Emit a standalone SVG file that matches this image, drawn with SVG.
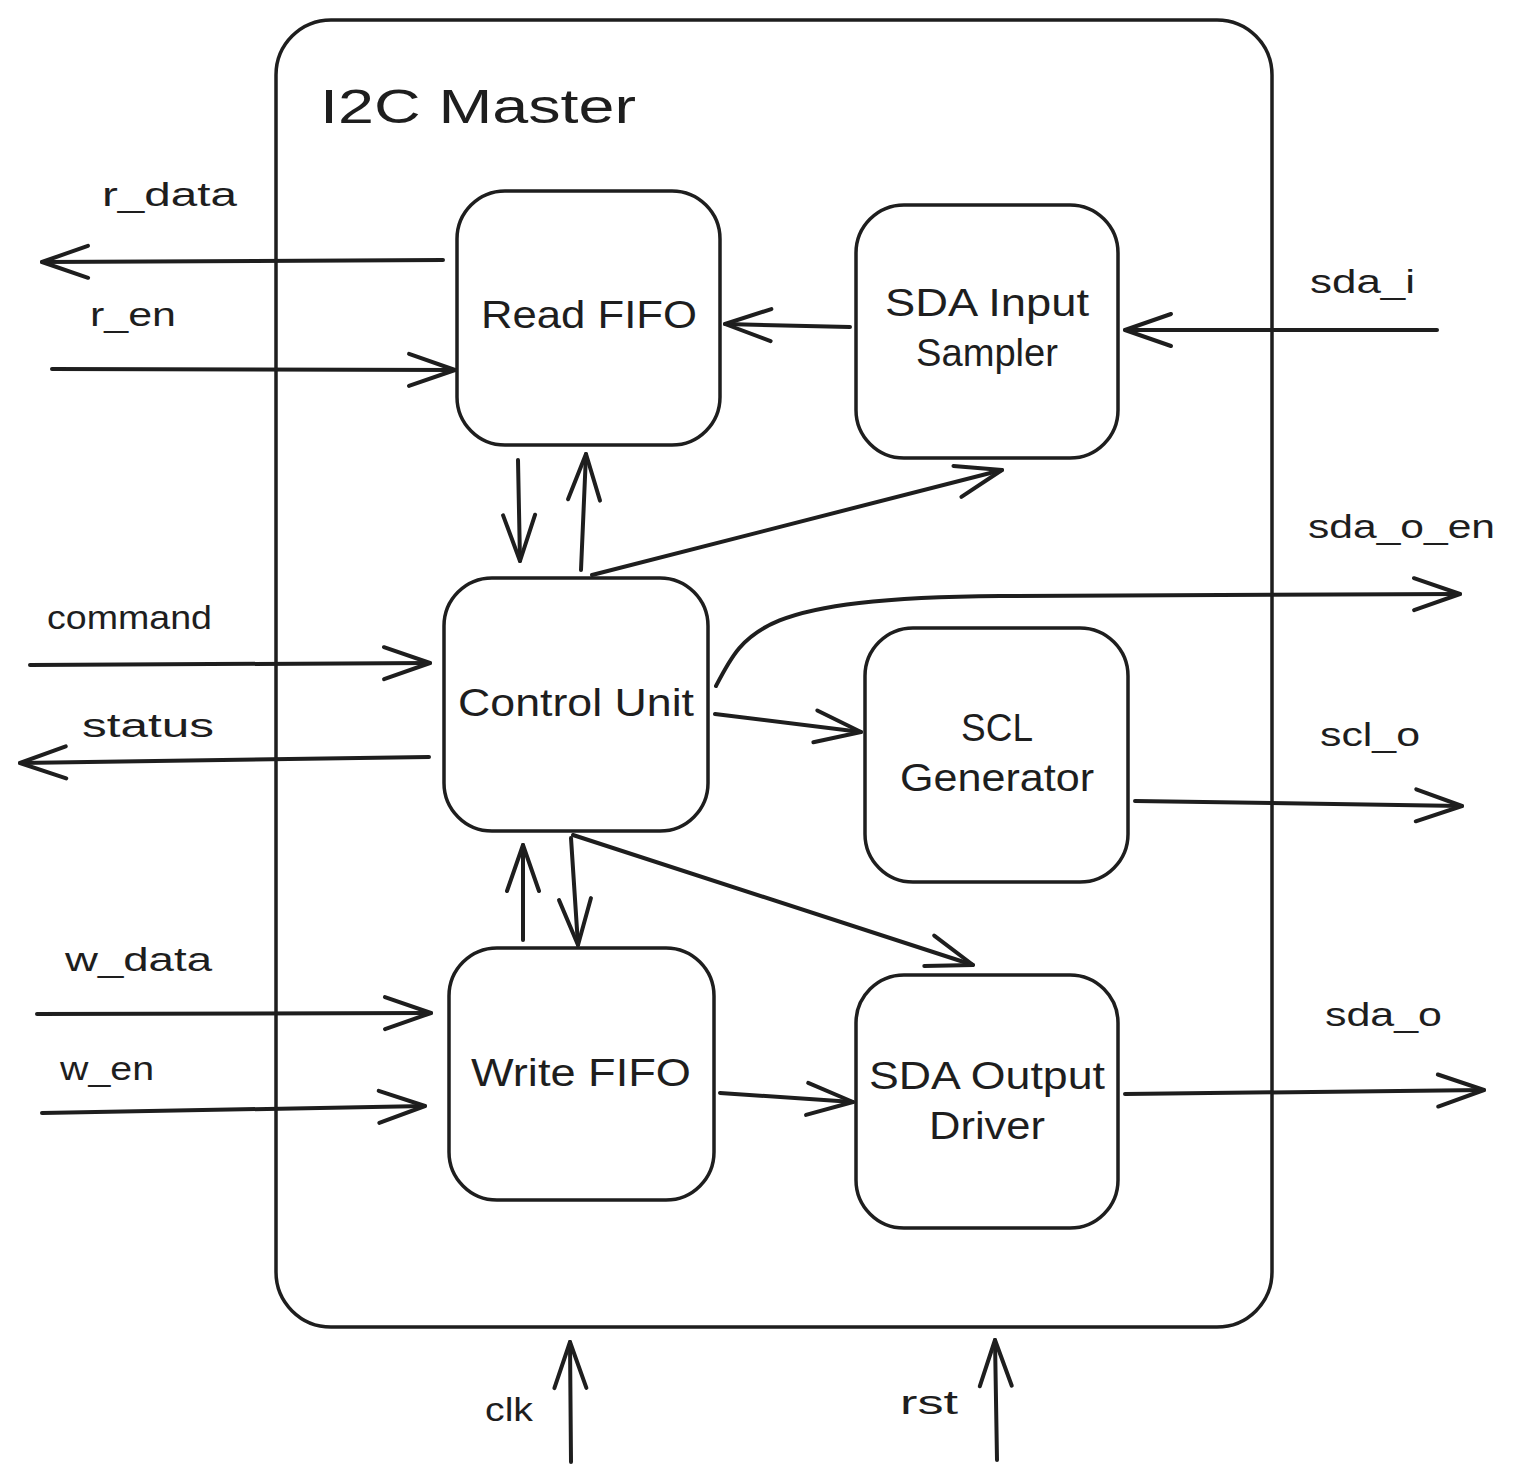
<svg xmlns="http://www.w3.org/2000/svg" width="1516" height="1483" viewBox="0 0 1516 1483">
<style>
.box{fill:none;stroke:#1e1e1e;stroke-width:3.5}
.ln{fill:none;stroke:#1e1e1e;stroke-width:4;stroke-linecap:round;marker-end:url(#ah)}
.t{font-family:"Liberation Sans",Arial,sans-serif;fill:#1e1e1e}
.n{font-size:38px;text-anchor:middle}
.l{font-size:34px}
</style>
<defs>
<marker id="ah" viewBox="0 0 52 40" refX="49" refY="20" markerWidth="52" markerHeight="40" markerUnits="userSpaceOnUse" orient="auto">
<path d="M3,4 L49,20 L3,36" fill="none" stroke="#1e1e1e" stroke-width="4" stroke-linecap="round" stroke-linejoin="round"/>
</marker>
</defs>
<rect width="1516" height="1483" fill="#ffffff"/>

<g id="i2c-master">
<rect class="box" x="276" y="20" width="996" height="1307" rx="55"/>
<text class="t" x="320" y="123" font-size="48" textLength="316" lengthAdjust="spacingAndGlyphs">I2C Master</text>
</g>

<g id="read-fifo">
<rect class="box" x="457" y="191" width="263" height="254" rx="48"/>
<text class="t n" x="589" y="328" textLength="216" lengthAdjust="spacingAndGlyphs">Read FIFO</text>
</g>
<g id="sda-input-sampler">
<rect class="box" x="856" y="205" width="262" height="253" rx="48"/>
<text class="t n" x="987" y="316" textLength="204" lengthAdjust="spacingAndGlyphs">SDA Input</text>
<text class="t n" x="987" y="366" textLength="142" lengthAdjust="spacingAndGlyphs">Sampler</text>
</g>
<g id="control-unit">
<rect class="box" x="444" y="578" width="264" height="253" rx="48"/>
<text class="t n" x="576" y="716" textLength="236" lengthAdjust="spacingAndGlyphs">Control Unit</text>
</g>
<g id="scl-generator">
<rect class="box" x="865" y="628" width="263" height="254" rx="48"/>
<text class="t n" x="997" y="741" textLength="72" lengthAdjust="spacingAndGlyphs">SCL</text>
<text class="t n" x="997" y="791" textLength="194" lengthAdjust="spacingAndGlyphs">Generator</text>
</g>
<g id="write-fifo">
<rect class="box" x="449" y="948" width="265" height="252" rx="48"/>
<text class="t n" x="581" y="1086" textLength="220" lengthAdjust="spacingAndGlyphs">Write FIFO</text>
</g>
<g id="sda-output-driver">
<rect class="box" x="856" y="975" width="262" height="253" rx="48"/>
<text class="t n" x="987" y="1089" textLength="236" lengthAdjust="spacingAndGlyphs">SDA Output</text>
<text class="t n" x="987" y="1139" textLength="116" lengthAdjust="spacingAndGlyphs">Driver</text>
</g>

<g id="connectors">
<path class="ln" d="M443,260 L42,262"/>
<path class="ln" d="M52,369 L455,370"/>
<path class="ln" d="M850,327 L725,324"/>
<path class="ln" d="M1437,330 L1125,330"/>
<path class="ln" d="M518,460 L520,561"/>
<path class="ln" d="M581,570 L586,454"/>
<path class="ln" d="M592,575 L1002,470"/>
<path class="ln" d="M716,686 C745,630 760,598 1000,596 L1460,594"/>
<path class="ln" d="M30,665 L430,663"/>
<path class="ln" d="M429,757 L20,763"/>
<path class="ln" d="M715,714 L861,732"/>
<path class="ln" d="M1135,801 L1462,806"/>
<path class="ln" d="M523,940 L523,845"/>
<path class="ln" d="M571,838 L578,945"/>
<path class="ln" d="M573,835 L973,965"/>
<path class="ln" d="M37,1014 L431,1013"/>
<path class="ln" d="M42,1113 L425,1106"/>
<path class="ln" d="M720,1093 L853,1102"/>
<path class="ln" d="M1125,1094 L1484,1090"/>
<path class="ln" d="M571,1462 L570,1342"/>
<path class="ln" d="M997,1460 L995,1340"/>
</g>

<g id="labels">
<text class="t l" x="102" y="206" textLength="135" lengthAdjust="spacingAndGlyphs">r_data</text>
<text class="t l" x="90" y="326" textLength="86" lengthAdjust="spacingAndGlyphs">r_en</text>
<text class="t l" x="1310" y="293" textLength="105" lengthAdjust="spacingAndGlyphs">sda_i</text>
<text class="t l" x="1308" y="538" textLength="187" lengthAdjust="spacingAndGlyphs">sda_o_en</text>
<text class="t l" x="47" y="629" textLength="165" lengthAdjust="spacingAndGlyphs">command</text>
<text class="t l" x="82" y="737" textLength="132" lengthAdjust="spacingAndGlyphs">status</text>
<text class="t l" x="1320" y="746" textLength="100" lengthAdjust="spacingAndGlyphs">scl_o</text>
<text class="t l" x="65" y="971" textLength="147" lengthAdjust="spacingAndGlyphs">w_data</text>
<text class="t l" x="60" y="1080" textLength="94" lengthAdjust="spacingAndGlyphs">w_en</text>
<text class="t l" x="1325" y="1026" textLength="117" lengthAdjust="spacingAndGlyphs">sda_o</text>
<text class="t l" x="485" y="1421" textLength="48" lengthAdjust="spacingAndGlyphs">clk</text>
<text class="t l" x="900" y="1414" textLength="58" lengthAdjust="spacingAndGlyphs">rst</text>
</g>
</svg>
